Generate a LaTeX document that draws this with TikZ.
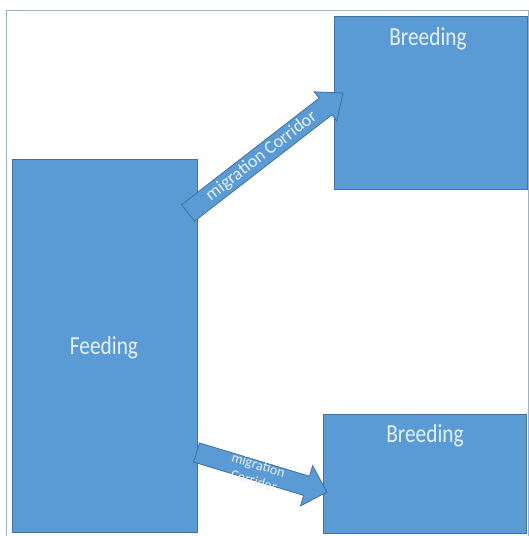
\documentclass[tikz,border=0pt]{standalone}
\usepackage{fontspec}
\newfontfamily\calib[FakeStretch=0.82]{Carlito}
\newfontfamily\calibn{Carlito}
\definecolor{boxfill}{HTML}{5B9BD5}
\definecolor{boxline}{HTML}{41719C}
\definecolor{frameline}{HTML}{9DB4C0}
\definecolor{txtcol}{HTML}{E6F0FA}
\tikzset{
  blockbox/.style={draw=boxline, fill=boxfill, line width=0.8pt},
  blockarrow/.style={draw=boxline, fill=boxfill, line width=0.8pt, line join=miter},
  boxtext/.style={text=txtcol, font=\calib\fontsize{26}{28}\selectfont, inner sep=0pt},
  arrowtext/.style={text=txtcol, inner sep=0pt, transform shape, align=center},
}
\begin{document}
\begin{tikzpicture}[x=1pt,y=1pt]
\useasboundingbox (0,0) rectangle (529,536);
% frame
\draw[frameline, line width=0.8pt] (6,0) -- (6,526) -- (528,526) -- (528,0);
% boxes
\node[blockbox, minimum width=193pt, minimum height=173pt, anchor=south west, inner sep=0pt] (b1) at (334,346) {};
\node[blockbox, minimum width=185pt, minimum height=373pt, anchor=south west, inner sep=0pt] (feed) at (12,3) {};
\node[blockbox, minimum width=203pt, minimum height=119pt, anchor=south west, inner sep=0pt] (b2) at (323,2) {};
\node[boxtext] (b1t) at (428,497) {Breeding};
\node[boxtext] (feedt) at (104,188) {Feeding};
\node[boxtext] (b2t) at (425,100) {Breeding};
% arrows
\coordinate (a1s) at (188,323);
\coordinate (a2s) at (196.5,83.5);
\begin{scope}[shift={(a1s)}, rotate=37.75]
  \draw[blockarrow] (0,-10.5) -- (174,-10.5) -- (174,-18.5) -- (196,0) -- (174,18.5) -- (174,10.5) -- (0,10.5) -- cycle;
  \node[arrowtext, font=\calibn\fontsize{18}{20}\selectfont] (a1t) at (93,0) {migration Corridor};
\end{scope}
\begin{scope}[shift={(a2s)}, rotate=-16.84]
  \draw[blockarrow] (0,-10) -- (115,-10) -- (115,-21) -- (136.3,0) -- (115,21) -- (115,10) -- (0,10) -- cycle;
  \node[arrowtext, font=\calibn\fontsize{14}{16}\selectfont] (a2t) at (63,-2) {migration\\Corridor};
\end{scope}
\end{tikzpicture}
\end{document}
